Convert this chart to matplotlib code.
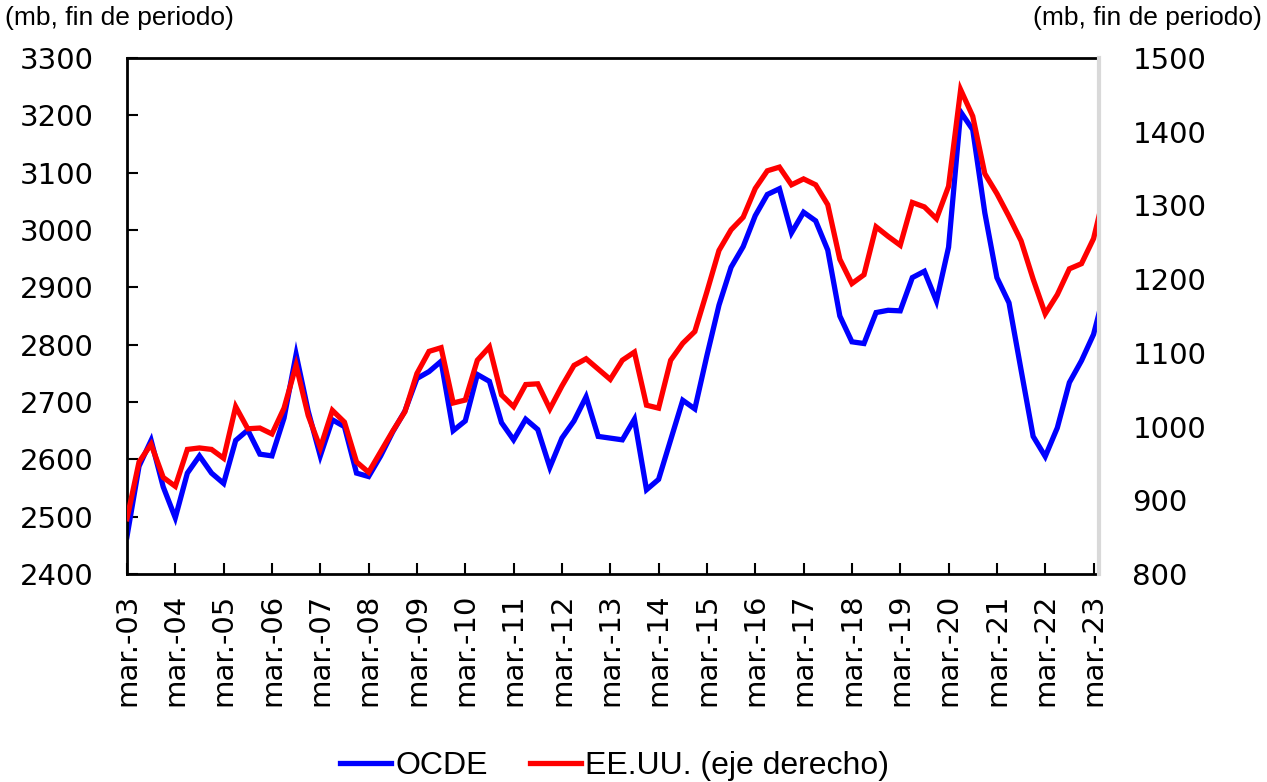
import matplotlib.pyplot as plt
import numpy as np

# quarterly periods, mar-03 .. jun-23
months = ['mar.', 'jun.', 'sep.', 'dic.']
years = list(range(3, 24))
periods = [f'{m}-{y:02d}' for y in years for m in months][:82]

ocde = [2465, 2588, 2633, 2552, 2498, 2576, 2606, 2576, 2558, 2633,
        2651, 2609, 2606, 2672, 2783, 2684, 2606, 2669, 2657, 2576,
        2570, 2606, 2648, 2684, 2741, 2753, 2771, 2650, 2667, 2748,
        2736, 2664, 2634, 2670, 2652, 2586, 2637, 2667, 2709, 2640,
        2637, 2634, 2670, 2547, 2565, 2634, 2703, 2688, 2781, 2869,
        2935, 2971, 3025, 3062, 3072, 2995, 3031, 3016, 2965, 2850,
        2805, 2802, 2856, 2860, 2859, 2917, 2928, 2876, 2970, 3206,
        3175, 3030, 2917, 2873, 2756, 2640, 2605, 2655, 2734, 2772,
        2818, 2899]

eeuu = [875, 952, 976, 931, 919, 969, 971, 969, 957, 1027,
        997, 998, 990, 1025, 1083, 1015, 971, 1022, 1006, 952,
        938, 966, 994, 1020, 1072, 1102, 1107, 1032, 1036, 1090,
        1108, 1043, 1027, 1057, 1058, 1024, 1055, 1083, 1092, 1078,
        1064, 1090, 1101, 1029, 1025, 1090, 1113, 1129, 1183, 1239,
        1267, 1284, 1323, 1347, 1352, 1328, 1336, 1328, 1301, 1227,
        1194, 1206, 1271, 1258, 1246, 1304, 1298, 1282, 1326, 1457,
        1421, 1343, 1316, 1285, 1252, 1200, 1153, 1179, 1214, 1221,
        1255, 1323]

x = np.arange(len(periods))
tick_idx = x[::4]
tick_labels = [periods[i] for i in tick_idx]

tick_font = ['DejaVu Sans']
narrow = ['Liberation Sans Narrow', 'Liberation Sans', 'DejaVu Sans']

fig = plt.figure(figsize=(12.67, 7.82), dpi=100)
ax = fig.add_axes([0.1002, 0.266, 0.7672, 0.6598])
ax2 = ax.twinx()

l1, = ax.plot(x, ocde, color='#0000FF', lw=3.8, solid_joinstyle='miter', label='OCDE')
l2, = ax2.plot(x, eeuu, color='#FF0000', lw=3.8, solid_joinstyle='miter',
               label='EE.UU. (eje derecho)')

ax.set_xlim(0, 80.45)
ax.set_ylim(2400, 3300)
ax2.set_ylim(800, 1500)
ax.set_yticks(np.arange(2400, 3301, 100))
ax2.set_yticks(np.arange(800, 1501, 100))
ax.set_xticks(tick_idx)
ax.set_xticklabels(tick_labels, rotation=90, fontsize=21, family=tick_font)

for lab in ax.get_yticklabels():
    lab.set_fontsize(21)
    lab.set_family(tick_font)
for lab in ax2.get_yticklabels():
    lab.set_fontsize(21)
    lab.set_family(tick_font)

ax.tick_params(axis='x', direction='in', length=8, width=1.5, pad=14)
ax.tick_params(axis='y', direction='in', length=8, width=1.5, pad=24)
ax2.tick_params(axis='y', length=0, pad=24)

for s in ['left', 'bottom', 'top']:
    ax.spines[s].set_linewidth(2)
ax.spines['right'].set_visible(False)
for s in ['left', 'bottom', 'top']:
    ax2.spines[s].set_visible(False)
ax2.spines['right'].set_color('#d9d9d9')
ax2.spines['right'].set_linewidth(3)

fig.text(0.004, 0.977, '(mb, fin de periodo)', fontsize=19, family=narrow,
         ha='left', va='center')
fig.text(0.996, 0.977, '(mb, fin de periodo)', fontsize=19, family=narrow,
         ha='right', va='center')

fig.legend([l1, l2], ['OCDE', 'EE.UU. (eje derecho)'], loc='center',
           bbox_to_anchor=(0.485, 0.02), ncol=2, frameon=False,
           prop={'family': narrow, 'size': 23}, handlelength=1.6,
           handletextpad=0.15, columnspacing=1.3)

fig.savefig('out.png', dpi=100)
